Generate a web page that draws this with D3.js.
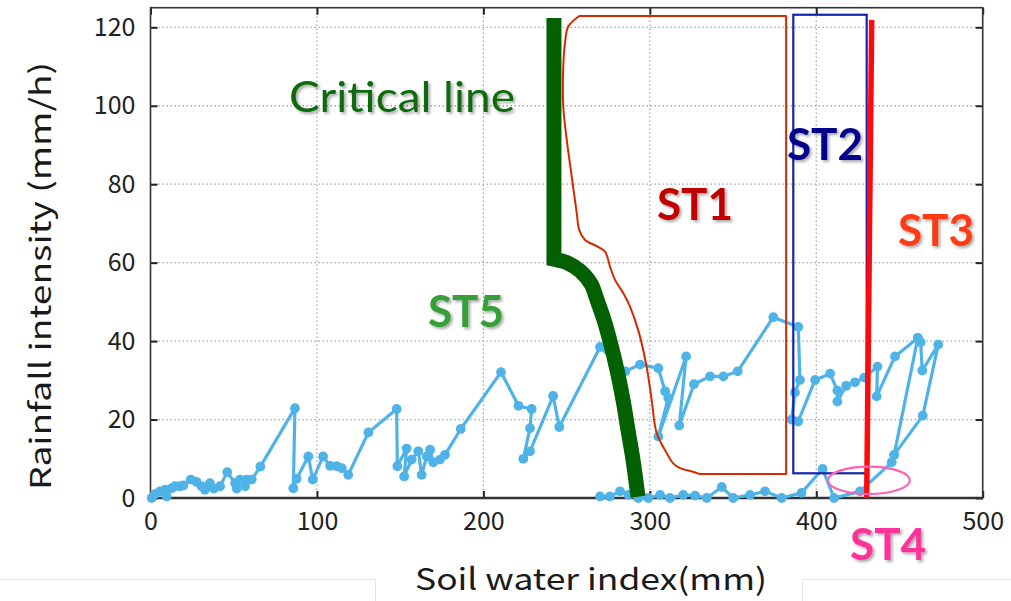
<!DOCTYPE html>
<html><head><meta charset="utf-8">
<script src="https://cdn.jsdelivr.net/npm/d3@7"></script>
<style>body{margin:0;background:#fff}svg{display:block}</style>
</head><body><svg id="c" width="1011" height="601"></svg>
<script>
// ---- data ----
const xTicks = [0, 100, 200, 300, 400, 500];
const yTicks = [0, 20, 40, 60, 80, 100, 120];
const xGrid = [100, 200, 300, 400];
const yGrid = [20, 40, 60, 80, 100, 120];

// rising rainfall event (soil water index mm, rainfall mm/h)
const eventA_swi = [0.7,2.7,5.7,8.8,9.7,12.7,14.7,17.7,19.7,24.2,27.7,30.7,32.7,35.7,38.1,41.8,46.1,50.8,51.8,53.8,56.8,57.8,60.8,66.0,
  86.8,85.8,87.8,94.8,97.5,103.7,107.9,111.9,114.9,118.8,130.9,147.9,148.3,153.9,152.4,156.9,160.9,162.9,166.0,168.0,169.9,173.9,176.9,186.4,
  210.6,221.1,229.0,228.0,224.0,228.0,241.9,245.6,270.1,285.3,294.1,305.1,309.2,311.1,305.1,321.8,317.7,326.5,336.2,344.2,352.8,374.2,389.2,
  390.2,387.2,385.2,389.1,399.3,408.3,412.7,412.7,418.0,423.3,428.9,436.8,436.3,447.3,461.0,462.7,463.7,473.3,464.0,446.8];
const eventA_rain = [0,1.0,1.7,2.1,0.4,2.5,3.0,3.0,3.2,4.7,4.1,3.0,2.1,3.8,2.4,3.0,6.6,3.8,2.4,4.7,3.0,4.7,4.7,8.0,
  22.9,2.5,4.9,10.6,4.7,10.6,8.2,8.1,7.6,5.9,16.7,22.7,8.1,12.6,5.5,9.8,11.9,5.9,10.6,12.3,9.1,9.8,11.0,17.6,
  32.1,23.5,22.7,17.8,10.0,11.9,26.0,18.1,38.5,32.3,34.0,33.1,27.2,25.5,15.7,36.1,18.5,29.0,31.0,31.0,32.3,46.1,43.6,
  30.1,26.9,20.0,19.5,30.1,31.7,27.4,24.6,28.6,29.5,30.7,33.5,25.9,36.1,40.8,39.7,32.5,39.1,21.0,11.0];

// low-rainfall sequence
const eventB_swi = [270.1,276.0,282.1,287.1,293.1,299.1,306.2,312.1,320.1,327.2,334.2,343.2,350.1,360.2,369.2,379.2,391.1,403.8,410.7,426.3,445.3,446.8,461.0];
const eventB_rain = [0.4,0.4,1.7,0.8,0,0,0.8,0,0.8,0.6,0,2.8,0,0.8,1.7,0,1.3,7.4,0,1.7,9.1,11.0,40.8];

// critical line (vertical part, then curved part)
const critical_swi = [242.4,242.4,250.8,258.1,264.7,268.3,272.5,276.7,280.3,283.9,286.9,289.9,292.9];
const critical_rain = [122.4,60.9,59.9,57.9,54.6,50.5,45.4,39.0,32.6,25.0,17.3,9.7,0.3];

// ST1 region outline: top-right, smooth left side, bottom-right
const st1_swi = [381.9,257.6,251.0,249.0,248.0,248.0,250.1,253.1,256.1,257.6,261.1,268.1,273.1,276.1,279.1,284.1,288.1,293.5,298.1,301.1,304.1,310.1,313.9,318.1,325.9,330.1,381.9];
const st1_rain = [122.9,122.9,120.2,115.9,110.0,99.8,91.3,81.9,72.6,68.3,65.8,64.2,62.8,59.0,55.6,52.2,48.8,42.1,33.4,25.0,16.6,11.5,8.9,7.6,6.7,6.1,6.1];

// ST2 box, ST3 line, ST4 ellipse (data units)
const st2_swi = [386.2, 430.3];
const st2_rain = [6.3, 123.2];
const st3_swi = [433.3, 430.3];
const st3_rain = [121.9, 0];
const st4_center = [431.6, 4.5];
const st4_radius = [24.6, 3.5];

const labels = ["Critical line", "ST1", "ST2", "ST3", "ST4", "ST5"];
const labelPos = [[83.2, 98.5], [304.3, 70.9], [382.4, 86.2], [449.1, 64.2], [420.3, -15.8], [166.7, 43.6]];

// ---- drawing ----
const svg = d3.select("#c");
const x = d3.scaleLinear().domain([0, 500]).range([150.5, 982.7]);
const y = d3.scaleLinear().domain([0, 125]).range([498, 7.7]);

const defs = svg.append("defs");
const f = defs.append("filter").attr("id", "sh").attr("x", "-20%").attr("y", "-20%").attr("width", "150%").attr("height", "150%");
f.append("feDropShadow").attr("dx", 2).attr("dy", 2).attr("stdDeviation", 1.4).attr("flood-color", "#000").attr("flood-opacity", 0.35);

// faint slide artefact lines at bottom
svg.append("path").attr("d", "M0,579.5H375.5V601").attr("fill", "none").attr("stroke", "#e4e4e4").attr("stroke-width", 1);
svg.append("path").attr("d", "M802.5,601V579.5H1011").attr("fill", "none").attr("stroke", "#e4e4e4").attr("stroke-width", 1);

// grid
const g = svg.append("g");
g.selectAll(".hg").data(yGrid).join("line")
  .attr("x1", x(0)).attr("x2", x(500)).attr("y1", d => y(d)).attr("y2", d => y(d))
  .attr("stroke", "#a8a8a8").attr("stroke-width", 1.3).attr("stroke-dasharray", "1.5,2.5");
g.selectAll(".vg").data(xGrid).join("line")
  .attr("y1", y(0)).attr("y2", y(125)).attr("x1", d => x(d)).attr("x2", d => x(d))
  .attr("stroke", "#a8a8a8").attr("stroke-width", 1.3).attr("stroke-dasharray", "1.5,2.5");

// axes
const font = "'Noto Sans CJK JP','Noto Sans',sans-serif";
function styleAxis(sel) {
  sel.select(".domain").remove();
  sel.selectAll(".tick line").attr("stroke", "#222").attr("stroke-width", 2);
  sel.selectAll(".tick text").attr("fill", "#222").style("font-family", font).style("font-size", "25px");
}
svg.append("g").attr("transform", `translate(${x(0)},0)`)
  .call(d3.axisLeft(y).tickValues(yTicks).tickSize(-7).tickPadding(15)).call(styleAxis);
svg.append("g").attr("transform", `translate(${x(500)},0)`)
  .call(d3.axisRight(y).tickValues(yTicks).tickSize(-7).tickFormat("")).call(styleAxis);
svg.append("g").attr("transform", `translate(0,${y(0)})`)
  .call(d3.axisBottom(x).tickValues(xTicks).tickSize(-7).tickPadding(14)).call(styleAxis);
svg.append("g").attr("transform", `translate(0,${y(125)})`)
  .call(d3.axisTop(x).tickValues(xTicks).tickSize(-7).tickFormat("")).call(styleAxis);

// frame
svg.append("rect").attr("x", x(0)).attr("y", y(125)).attr("width", x(500) - x(0)).attr("height", y(0) - y(125))
  .attr("fill", "none").attr("stroke", "#333").attr("stroke-width", 1.6);
svg.append("line").attr("x1", x(0)).attr("x2", x(500)).attr("y1", y(0)).attr("y2", y(0)).attr("stroke", "#333").attr("stroke-width", 2.4);

// axis titles
svg.append("text").attr("transform", `translate(51,276) rotate(-90)`)
  .attr("text-anchor", "middle").attr("fill", "#1a1a1a").style("font-family", font).style("font-size", "29px")
  .attr("textLength", 428).attr("lengthAdjust", "spacingAndGlyphs")
  .text("Rainfall intensity (mm/h)");
svg.append("text").attr("x", 591).attr("y", 590)
  .attr("text-anchor", "middle").attr("fill", "#1a1a1a").style("font-family", font).style("font-size", "30px")
  .attr("textLength", 352).attr("lengthAdjust", "spacingAndGlyphs")
  .text("Soil water index(mm)");

// data series
const blue = "#4fb3e8";
const line = d3.line().x(d => x(d[0])).y(d => y(d[1]));
const smooth = d3.line().x(d => x(d[0])).y(d => y(d[1])).curve(d3.curveCatmullRom.alpha(0.5));
const A = eventA_swi.map((v, i) => [v, eventA_rain[i]]);
const B = eventB_swi.map((v, i) => [v, eventB_rain[i]]);
[A, B].forEach(s => {
  svg.append("path").attr("d", line(s)).attr("fill", "none").attr("stroke", blue).attr("stroke-width", 3.2).attr("stroke-linejoin", "round");
  svg.append("g").selectAll("circle").data(s).join("circle")
    .attr("cx", d => x(d[0])).attr("cy", d => y(d[1])).attr("r", 4.9).attr("fill", blue);
});

// ST1 outline: straight top, smooth left side, straight bottom and right
const st1 = st1_swi.map((v, i) => [v, st1_rain[i]]);
const st1Left = st1.slice(1, st1.length - 1);
const st1Path = "M" + x(st1[0][0]) + "," + y(st1[0][1]) + "L" + smooth(st1Left).slice(1) +
  "L" + x(st1[st1.length - 1][0]) + "," + y(st1[st1.length - 1][1]) + "Z";
svg.append("path").attr("d", st1Path).attr("fill", "none").attr("stroke", "#d42a00").attr("stroke-width", 2).attr("stroke-linejoin", "round");

// ST2 box
svg.append("rect").attr("x", x(st2_swi[0])).attr("y", y(st2_rain[1]))
  .attr("width", x(st2_swi[1]) - x(st2_swi[0])).attr("height", y(st2_rain[0]) - y(st2_rain[1]))
  .attr("fill", "none").attr("stroke", "#1424b0").attr("stroke-width", 2.2);

// ST3 line
svg.append("line").attr("x1", x(st3_swi[0])).attr("y1", y(st3_rain[0])).attr("x2", x(st3_swi[1])).attr("y2", y(st3_rain[1]))
  .attr("stroke", "#ff0a0a").attr("stroke-width", 5.5);

// critical line: straight vertical part then smooth curve
const crit = critical_swi.map((v, i) => [v, critical_rain[i]]);
const critPath = "M" + x(crit[0][0]) + "," + y(crit[0][1]) + "L" + smooth(crit.slice(1)).slice(1);
svg.append("path").attr("d", critPath).attr("fill", "none").attr("stroke", "#036003").attr("stroke-width", 15)
  .attr("stroke-linejoin", "miter").attr("stroke-miterlimit", 4);

// ST4 ellipse
svg.append("ellipse").attr("cx", x(st4_center[0])).attr("cy", y(st4_center[1]))
  .attr("rx", x(st4_radius[0]) - x(0)).attr("ry", y(0) - y(st4_radius[1]))
  .attr("fill", "none").attr("stroke", "#ff62b4").attr("stroke-width", 2.2);

// labels
const labelColor = ["#0f6a0f", "#c00000", "#00008c", "#ff3b14", "#ff3399", "#35a035"];
const labelWeight = [400, 700, 700, 700, 700, 700];
const labelSize = [42, 44, 44, 44, 44, 44];
svg.append("g").selectAll("text").data(labels).join("text")
  .attr("x", (d, i) => x(labelPos[i][0])).attr("y", (d, i) => y(labelPos[i][1]))
  .attr("fill", (d, i) => labelColor[i])
  .style("font-family", "Lato, 'Open Sans', sans-serif")
  .style("font-weight", (d, i) => labelWeight[i])
  .style("font-size", (d, i) => labelSize[i] + "px")
  .attr("textLength", (d, i) => i === 0 ? 226 : null)
  .attr("lengthAdjust", "spacingAndGlyphs")
  .attr("filter", "url(#sh)")
  .text(d => d);
</script></body></html>
